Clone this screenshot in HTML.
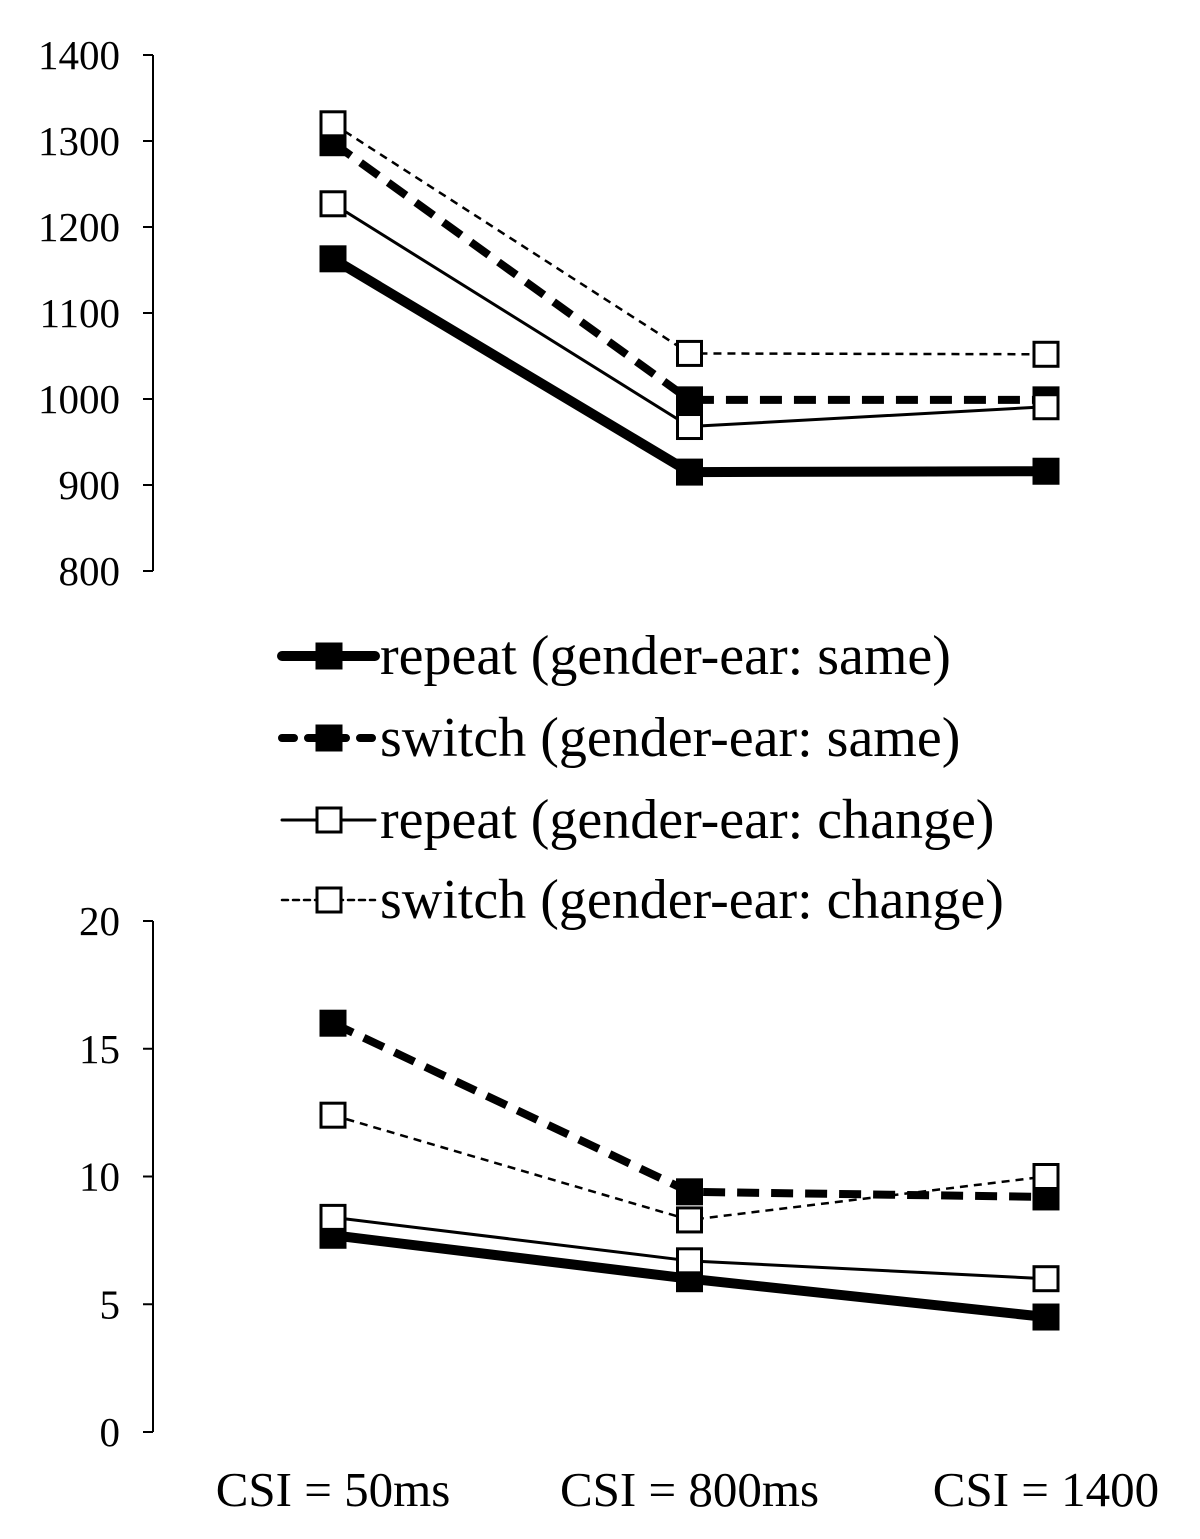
<!DOCTYPE html>
<html><head><meta charset="utf-8"><style>
html,body{margin:0;padding:0;background:#fff;}
svg{display:block;font-family:"Liberation Serif",serif;}
</style></head><body>
<svg id="chart" width="1200" height="1539" viewBox="0 0 1200 1539" xmlns="http://www.w3.org/2000/svg"></svg>
<script>
const categories = ["CSI = 50ms","CSI = 800ms","CSI = 1400"];
const seriesNames = ["repeat (gender-ear: same)","switch (gender-ear: same)","repeat (gender-ear: change)","switch (gender-ear: change)"];
const topRepeatSame = [1163, 915, 916];
const topSwitchSame = [1298, 999, 999];
const topRepeatChange = [1227, 968, 991];
const topSwitchChange = [1320, 1053, 1052];
const botRepeatSame = [7.7, 6.0, 4.5];
const botSwitchSame = [16.0, 9.4, 9.2];
const botRepeatChange = [8.4, 6.7, 6.0];
const botSwitchChange = [12.4, 8.3, 10.0];
const topTicks = [800,900,1000,1100,1200,1300,1400];
const botTicks = [0,5,10,15,20];

const NS="http://www.w3.org/2000/svg";
const svg=document.getElementById('chart');
function mk(tag,attrs,parent){const e=document.createElementNS(NS,tag);for(const k in attrs)e.setAttribute(k,attrs[k]);(parent||svg).appendChild(e);return e;}
const xPos=i=>333+i*356.5;
const styles=[
 {w:10,dash:null,fill:'#000'},
 {w:8,dash:'22 12',fill:'#000'},
 {w:3,dash:null,fill:'#fff'},
 {w:2.5,dash:'8 6',fill:'#fff'}
];
function drawChart(name,ticks,yMin,yMax,yTop,yBot,series){
  const y=v=>yBot-(v-yMin)/(yMax-yMin)*(yBot-yTop);
  const g=mk('g',{});
  
  
  const ax=mk('line',{x1:153,x2:153,y1:y(yMax),y2:y(yMin),stroke:'#000','stroke-width':2},g);
  
  
  ticks.forEach(t=>{
    mk('line',{x1:143,x2:153,y1:y(t),y2:y(t),stroke:'#000','stroke-width':2},g);
    const tx=mk('text',{x:120,y:y(t)+14,'text-anchor':'end','font-size':41},g);
    tx.textContent=t;
    
    
  });
  series.forEach((s,si)=>{
    const st=styles[si];
    const pl=mk('polyline',{points:s.map((v,i)=>xPos(i)+','+y(v)).join(' '),fill:'none',stroke:'#000','stroke-width':st.w,'stroke-linejoin':'round'},g);
    if(st.dash)pl.setAttribute('stroke-dasharray',st.dash);
    
    
    s.forEach((v,i)=>{
      const r=mk('rect',{x:xPos(i)-12,y:y(v)-12,width:24,height:24,fill:st.fill,stroke:'#000','stroke-width':3},g);
      
      
    });
  });
}
drawChart('rt-chart',topTicks,800,1400,55,571,[topRepeatSame,topSwitchSame,topRepeatChange,topSwitchChange]);
drawChart('error-chart',botTicks,0,20,921,1432,[botRepeatSame,botSwitchSame,botRepeatChange,botSwitchChange]);
categories.forEach((c,i)=>{
  const t=mk('text',{x:xPos(i),y:1506,'text-anchor':'middle','font-size':49});
  t.textContent=c;
  
  
});
const legendY=[656,738,820,900];
seriesNames.forEach((n,i)=>{
  const st=styles[i];
  const g=mk('g',{});
  
  
  const l=mk('line',{x1:282,x2:375,y1:legendY[i],y2:legendY[i],stroke:'#000','stroke-width':st.w,'stroke-linecap':'round'},g);
  if(st.dash)l.setAttribute('stroke-dasharray',i==1?'12 14':'6 5');
  mk('rect',{x:317,y:legendY[i]-12,width:24,height:24,fill:st.fill,stroke:'#000','stroke-width':3},g);
  const t=mk('text',{x:380,y:legendY[i]+18,'font-size':56},g);
  t.textContent=n;
});
</script>
</body></html>
